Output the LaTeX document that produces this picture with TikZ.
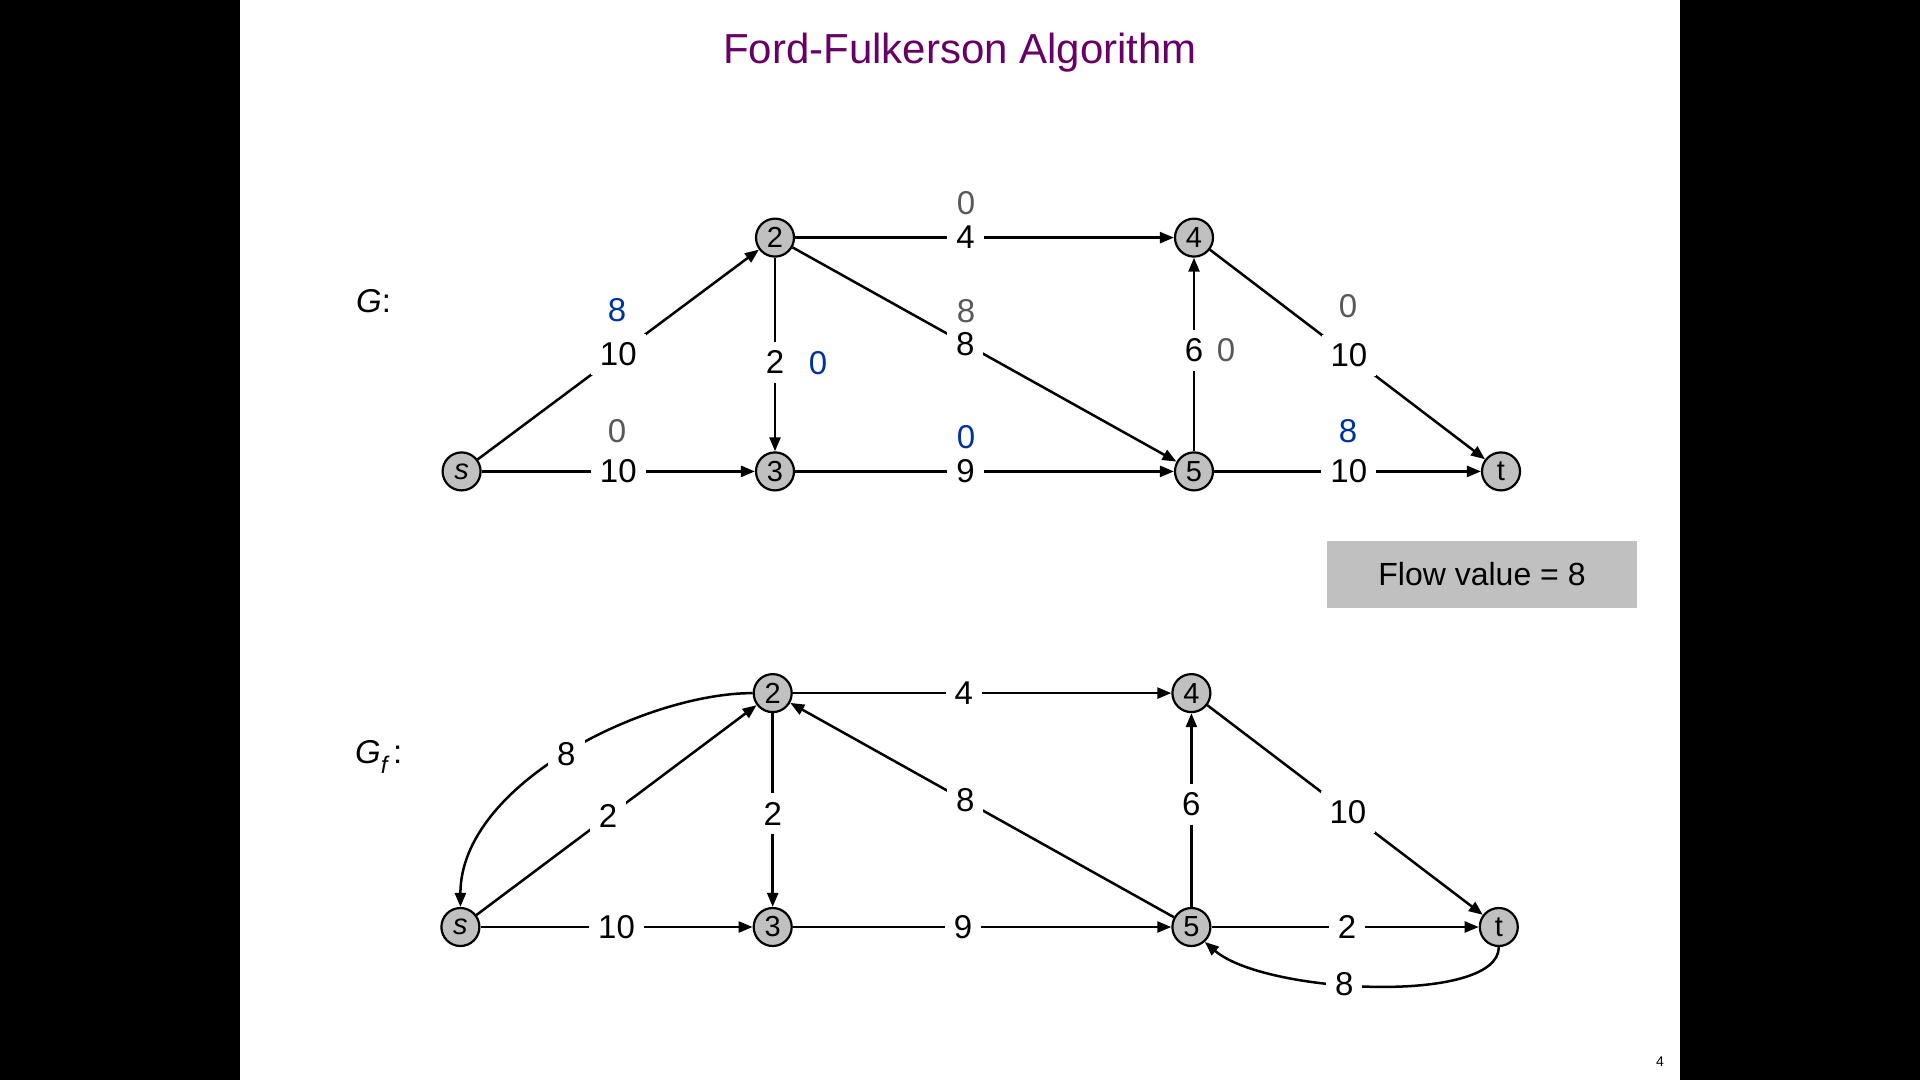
\documentclass[tikz,border=0pt]{standalone}
\usepackage{fontspec}
\setmainfont{Liberation Sans}
\usetikzlibrary{arrows.meta}
\definecolor{flowblue}{RGB}{0,51,153}
\definecolor{flowgray}{RGB}{89,89,89}
\definecolor{titlepurple}{RGB}{102,0,102}
\definecolor{nodegray}{RGB}{192,192,192}
\begin{document}
\begin{tikzpicture}[x=1pt,y=-1pt,
  vert/.style={circle,draw=black,fill=nodegray,line width=2.2pt,minimum size=38pt,inner sep=0pt,font=\fontsize{29}{29}\selectfont},
  edge/.style={line width=2.5pt,-{Triangle[length=14pt,width=11pt]}},
  lbl/.style={fill=white,inner sep=9pt,font=\fontsize{33}{33}\selectfont},
  fblue/.style={text=flowblue,inner sep=0pt,font=\fontsize{33}{33}\selectfont},
  fgray/.style={text=flowgray,inner sep=0pt,font=\fontsize{33}{33}\selectfont}]
\useasboundingbox (0,0) rectangle (1920,1080);
\fill[black] (0,0) rectangle (240,1080);
\fill[black] (1680,0) rectangle (1920,1080);
\fill[white] (240,0) rectangle (1680,1080);

% title
\node[text=titlepurple,font=\fontsize{42}{42}\selectfont] (title) at (960,53) {Ford-Fulkerson Algorithm};

% graph labels
\node[anchor=west,font=\fontsize{33}{33}\selectfont,inner sep=0pt] (Glab) at (356,301) {\itshape G\upshape:};
\node[anchor=west,font=\fontsize{33}{33}\selectfont,inner sep=0pt] (Gflab) at (355,757) {\itshape G\raisebox{-0.3em}{\fontsize{24}{24}\selectfont f}\upshape\,:};

% ---------- top graph G ----------
\node[vert] (ts) at (461.6,471.4) {\itshape s};
\node[vert] (t2) at (775,237.6) {2};
\node[vert] (t3) at (775,471.4) {3};
\node[vert] (t4) at (1194,237.6) {4};
\node[vert] (t5) at (1194,471.4) {5};
\node[vert] (tt) at (1501,471.4) {t};

\draw[edge] (ts) -- node[lbl,pos=0.5] {10} (t2);
\draw[edge] (ts) -- node[lbl,pos=0.5] {10} (t3);
\draw[edge] (t2) -- node[lbl,pos=0.54] {2} (t3);
\draw[edge] (t2) -- node[lbl,pos=0.45] {4} (t4);
\draw[edge] (t2) -- node[lbl,pos=0.45] {8} (t5);
\draw[edge] (t3) -- node[lbl,pos=0.45] {9} (t5);
\draw[edge] (t5) -- node[lbl,pos=0.52] {6} (t4);
\draw[edge] (t4) -- node[lbl,pos=0.505] {10} (tt);
\draw[edge] (t5) -- node[lbl,pos=0.505] {10} (tt);

% flows
\node[fblue] (f1) at (617,310) {8};
\node[fgray] (f2) at (617,431) {0};
\node[fblue] (f3) at (818,363) {0};
\node[fgray] (f4) at (966,203) {0};
\node[fgray] (f5) at (966,311) {8};
\node[fblue] (f6) at (966,437) {0};
\node[fgray] (f7) at (1226,350) {0};
\node[fgray] (f8) at (1348,306) {0};
\node[fblue] (f9) at (1348,431) {8};

% flow value box
\node[fill=nodegray,minimum width=310pt,minimum height=67pt,inner sep=0pt,font=\fontsize{32}{32}\selectfont] (flowbox) at (1482,574.5) {Flow value = 8};

% ---------- bottom graph Gf ----------
\node[vert] (bs) at (460.4,927) {\itshape s};
\node[vert] (b2) at (772.7,693.1) {2};
\node[vert] (b3) at (772.7,927) {3};
\node[vert] (b4) at (1191.4,693.1) {4};
\node[vert] (b5) at (1191.4,927) {5};
\node[vert] (bt) at (1498.8,927) {t};

\draw[edge] (b2.west) .. controls +(-107,0) and +(0,-123) .. node[lbl,pos=0.5] {8} (bs.north);
\draw[edge] (bs) -- node[lbl,pos=0.47] {2} (b2);
\draw[edge] (b2) -- node[lbl,pos=0.52] {2} (b3);
\draw[edge] (b5) -- node[lbl,pos=0.544] {8} (b2);
\draw[edge] (b2) -- node[lbl,pos=0.452] {4} (b4);
\draw[edge] (bs) -- node[lbl,pos=0.5] {10} (b3);
\draw[edge] (b3) -- node[lbl,pos=0.45] {9} (b5);
\draw[edge] (b5) -- node[lbl,pos=0.53] {6} (b4);
\draw[edge] (b4) -- node[lbl,pos=0.51] {10} (bt);
\draw[edge] (b5) -- node[lbl,pos=0.507] {2} (bt);
\draw[edge] (bt.south) .. controls +(0,58) and +(60,52) .. node[lbl,pos=0.575] {8} (b5.-48);

% page number
\node[font=\fontsize{14}{14}\selectfont,inner sep=0pt] (pnum) at (1660,1062) {4};
\end{tikzpicture}
\end{document}
